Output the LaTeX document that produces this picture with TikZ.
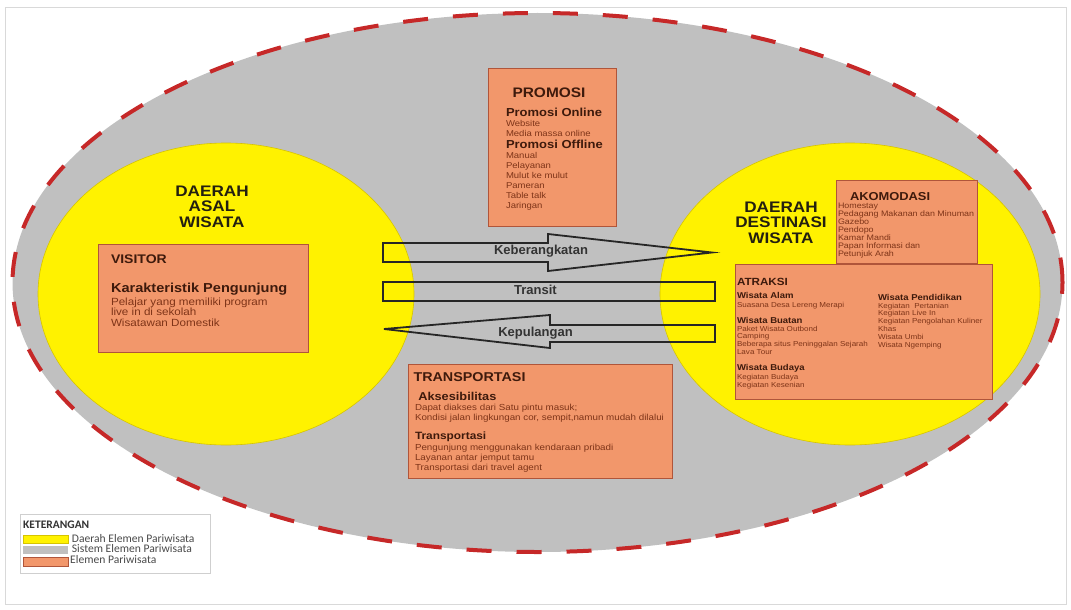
\documentclass[tikz,border=0pt]{standalone}
\usepackage{fontspec}
\setmainfont{Liberation Sans}[FakeStretch=1.12]
\newfontfamily\plainsans{Liberation Sans}
\newfontfamily\legfont{Carlito}
\usetikzlibrary{shapes.geometric}
\newcommand\fsz[2]{\fontsize{#1}{#2}\selectfont}
\definecolor{sysgray}{HTML}{C0C0C0}
\definecolor{dashred}{HTML}{C62828}
\definecolor{daerahyel}{HTML}{FFF200}
\definecolor{yeledge}{HTML}{D6C400}
\definecolor{elemfill}{HTML}{F2976B}
\definecolor{elemedge}{HTML}{B0553A}
\definecolor{ttlcol}{HTML}{3E1A0C}
\definecolor{itmcol}{HTML}{7E3418}
\definecolor{arrowcol}{HTML}{262626}
\definecolor{arrtxt}{HTML}{333333}
\definecolor{bigtxt}{HTML}{231F10}
\definecolor{framegray}{HTML}{D9D9D9}
\definecolor{legedge}{HTML}{CFCFCF}
\definecolor{legtxt}{HTML}{4A4A4A}
\begin{document}
\begin{tikzpicture}[x=1pt,y=-1pt,
  txt/.style={inner sep=0pt, outer sep=0pt, anchor=base west, align=left},
  ttl/.style={txt, text=ttlcol, font=\bfseries\fsz{#1}{#1}},
  sub/.style={txt, text=ttlcol, font=\bfseries\fsz{#1}{#1}},
  itm/.style 2 args={txt, text=itmcol, font=\fsz{#1}{#2}},
  elembox/.style={draw=elemedge, line width=1.3pt, fill=elemfill, inner sep=0pt, anchor=north west},
  flowarrow/.style={draw=arrowcol, line width=1.8pt, line join=miter},
  arrlabel/.style={inner sep=0pt, anchor=base, text=arrtxt, font=\plainsans\bfseries\fsz{13}{13}},
  bigl/.style={inner sep=0pt, anchor=base, align=center, text=bigtxt, font=\bfseries\fsz{15.3}{15.5}},
  legl/.style={inner sep=0pt, anchor=base west, text=legtxt, font=\legfont\fsz{11.6}{11.6}}
]
\useasboundingbox (0,0) rectangle (1071,610);
\draw[framegray, line width=0.8pt] (5,7) rectangle (1066,604);

% system ellipse
\node[ellipse, fill=sysgray, draw=dashred, line width=4pt, dash pattern=on 25pt off 25pt,
      minimum width=1050pt, minimum height=539pt, inner sep=0pt] (sys) at (537.5,282.5) {};
% region ellipses
\node[ellipse, fill=daerahyel, draw=yeledge, line width=0.6pt,
      minimum width=376pt, minimum height=302pt, inner sep=0pt] (asal) at (226,294) {};
\node[ellipse, fill=daerahyel, draw=yeledge, line width=0.6pt,
      minimum width=380pt, minimum height=302pt, inner sep=0pt] (dest) at (850,294) {};

% flow arrows
\draw[flowarrow] (383,243) -- (548,243) -- (548,234) -- (712,252.5) -- (548,271) -- (548,262) -- (383,262) -- cycle;
\draw[flowarrow] (383,282) rectangle (715,301);
\draw[flowarrow] (384,329) -- (550,315) -- (550,325) -- (715,325) -- (715,342) -- (550,342) -- (550,348) -- cycle;
\node[arrlabel] (lbrk) at (541,254) {Keberangkatan};
\node[arrlabel] (ltrn) at (535.5,294) {Transit};
\node[arrlabel] (lplg) at (535.5,336) {Kepulangan};

% region labels (base = last line)
\node[bigl] (tasal) at (212,227) {DAERAH\\ASAL\\WISATA};
\node[bigl] (tdest) at (781,243) {DAERAH\\DESTINASI\\WISATA};

% PROMOSI
\node[elembox, minimum width=128pt, minimum height=158pt] (promo) at (488,68) {};
\node[ttl=13.8, anchor=base] (promoT) at (549,97) {PROMOSI};
\node[sub=11.6] (onT) at (506,116) {Promosi Online};
\node[itm={8.5}{10}] (onI) at (506,136.7) {Website\\Media massa online};
\node[sub=11.6] (offT) at (506,148.5) {Promosi Offline};
\node[itm={8.5}{10}] (offI) at (506,208.5) {Manual\\Pelayanan\\Mulut ke mulut\\Pameran\\Table talk\\Jaringan};

% VISITOR
\node[elembox, minimum width=210pt, minimum height=108pt] (visit) at (98,244) {};
\node[ttl=12.5] (visT) at (111,263) {VISITOR};
\node[sub=13] (karT) at (111,292) {Karakteristik Pengunjung};
\node[itm={10.4}{10.5}] (karI) at (111,326) {Pelajar yang memiliki program\\live in di sekolah\\Wisatawan Domestik};

% AKOMODASI
\node[elembox, minimum width=141pt, minimum height=83pt] (akom) at (836,180) {};
\node[ttl=11.5] (akomT) at (850,200) {AKOMODASI};
\node[itm={7.95}{8}] (akomI) at (838,256.3) {Homestay\\Pedagang Makanan dan Minuman\\Gazebo\\Pendopo\\Kamar Mandi\\Papan Informasi dan\\Petunjuk Arah};

% ATRAKSI
\node[elembox, minimum width=257pt, minimum height=135pt] (atr) at (735,264) {};
\node[ttl=10.4] (atrT) at (737,285) {ATRAKSI};
\node[sub=8.5] (alamT) at (737,298.7) {Wisata Alam};
\node[itm={7.2}{7.6}] (alamI) at (737,307) {Suasana Desa Lereng Merapi};
\node[sub=8.5] (buatT) at (737,323.7) {Wisata Buatan};
\node[itm={7.2}{7.6}] (buatI) at (737,354.1) {Paket Wisata Outbond\\Camping\\Beberapa situs Peninggalan Sejarah\\Lava Tour};
\node[sub=8.5] (budT) at (737,370.3) {Wisata Budaya};
\node[itm={7.2}{7.7}] (budI) at (737,387) {Kegiatan Budaya\\Kegiatan Kesenian};
\node[sub=8.5] (pendT) at (878,300.3) {Wisata Pendidikan};
\node[itm={7.2}{7.8}] (pendI) at (878,347) {Kegiatan~~Pertanian\\Kegiatan Live In\\Kegiatan Pengolahan Kuliner\\Khas\\Wisata Umbi\\Wisata Ngemping};

% TRANSPORTASI
\node[elembox, minimum width=264pt, minimum height=114pt] (trans) at (408,364) {};
\node[ttl=12.8] (transT) at (413.5,381) {TRANSPORTASI};
\node[sub=11.4] (aksT) at (418.3,400.5) {Aksesibilitas};
\node[itm={8.75}{10}] (aksI) at (415,420) {Dapat diakses dari Satu pintu masuk;\\Kondisi jalan lingkungan cor, sempit,namun mudah dilalui};
\node[sub=10.6] (trpT) at (415,439) {Transportasi};
\node[itm={8.75}{9.75}] (trpI) at (415,470) {Pengunjung menggunakan kendaraan pribadi\\Layanan antar jemput tamu\\Transportasi dari travel agent};

% LEGEND
\node[draw=legedge, line width=0.8pt, fill=white, minimum width=190pt, minimum height=59pt, inner sep=0pt, anchor=north west] (leg) at (20,514) {};
\node[inner sep=0pt, anchor=base west, text=arrtxt, font=\legfont\bfseries\fsz{11.5}{11.5}] (legT) at (23,528.5) {KETERANGAN};
\node[fill=daerahyel, draw=yeledge, line width=0.6pt, minimum width=45pt, minimum height=7.7pt, inner sep=0pt, anchor=north west] (swY) at (23,535) {};
\node[fill=sysgray, minimum width=45pt, minimum height=7.3pt, inner sep=0pt, anchor=north west] (swG) at (23,546) {};
\node[fill=elemfill, draw=elemedge, line width=0.8pt, minimum width=45pt, minimum height=9.3pt, inner sep=0pt, anchor=north west] (swO) at (23,556.7) {};
\node[legl] (legY) at (71.7,542.7) {Daerah Elemen Pariwisata};
\node[legl] (legG) at (71.7,552.7) {Sistem Elemen Pariwisata};
\node[legl] (legO) at (70,563.3) {Elemen Pariwisata};
\end{tikzpicture}
\end{document}
